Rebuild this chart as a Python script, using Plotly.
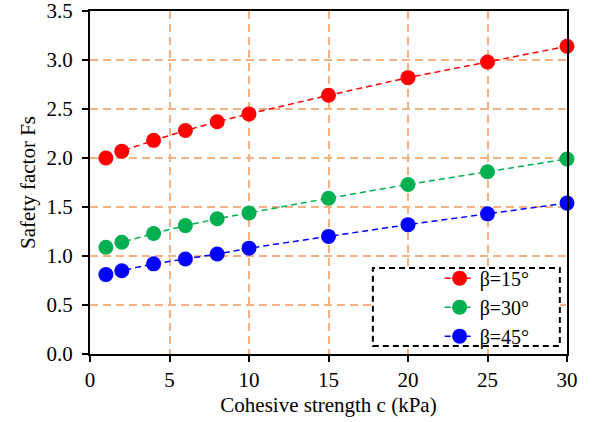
import plotly.graph_objects as go

c_vals = [1, 2, 4, 6, 8, 10, 15, 20, 25, 30]
fs_15 = [2.00, 2.07, 2.18, 2.28, 2.37, 2.45, 2.64, 2.82, 2.98, 3.14]
fs_30 = [1.09, 1.14, 1.23, 1.31, 1.38, 1.44, 1.59, 1.73, 1.86, 1.99]
fs_45 = [0.81, 0.85, 0.92, 0.97, 1.02, 1.08, 1.20, 1.32, 1.43, 1.54]
names = ["β=15°", "β=30°", "β=45°"]
colors = ["#FF0000", "#00B050", "#0000FF"]

font_family = "Times New Roman, Liberation Serif, serif"
grid_color = "#F4B183"

fig = go.Figure()
for name, ys, col in zip(names, [fs_15, fs_30, fs_45], colors):
    fig.add_trace(go.Scatter(
        x=c_vals, y=ys, name=name, mode="lines+markers",
        line=dict(color=col, width=1.5, dash="6px,4px"),
        marker=dict(color=col, size=15, symbol="circle"),
        cliponaxis=False,
    ))

fig.update_layout(
    width=598, height=422,
    margin=dict(l=90, r=31, t=11, b=68),
    paper_bgcolor="white", plot_bgcolor="white",
    font=dict(family=font_family, size=21, color="black"),
    showlegend=True,
    legend=dict(
        x=0.733, y=0.278, xanchor="left", yanchor="top",
        bgcolor="rgba(0,0,0,0)", borderwidth=0,
        font=dict(size=20, family=font_family),
        tracegroupgap=0, itemwidth=30,
    ),
    xaxis=dict(
        range=[0, 30], tickvals=[0, 5, 10, 15, 20, 25, 30],
        tickfont=dict(size=21), ticklabeloverflow="allow",
        title=dict(text="Cohesive strength c (kPa)", standoff=6, font=dict(size=21)),
        showline=True, linecolor="black", linewidth=2, mirror=True,
        ticks="outside", ticklen=6, tickwidth=2, tickcolor="black",
        showgrid=True, gridcolor=grid_color, gridwidth=1.5, griddash="8px,5px",
        zeroline=False, automargin=False,
    ),
    yaxis=dict(
        range=[0, 3.5], tickvals=[0, 0.5, 1.0, 1.5, 2.0, 2.5, 3.0, 3.5],
        tickformat=".1f", tickfont=dict(size=21), ticklabeloverflow="allow",
        ticklabelstandoff=5,
        title=dict(text="Safety factor Fs", standoff=5, font=dict(size=21)),
        showline=True, linecolor="black", linewidth=2, mirror=True,
        ticks="outside", ticklen=6, tickwidth=2, tickcolor="black",
        showgrid=True, gridcolor=grid_color, gridwidth=1.5, griddash="8px,5px",
        zeroline=False, automargin=False,
    ),
    shapes=[dict(
        type="rect", xref="paper", yref="paper",
        x0=0.593, x1=0.985, y0=0.023, y1=0.251,
        line=dict(color="black", width=2, dash="6px,4px"),
        fillcolor="white", layer="above",
    )],
)

fig.write_html("out.html")
